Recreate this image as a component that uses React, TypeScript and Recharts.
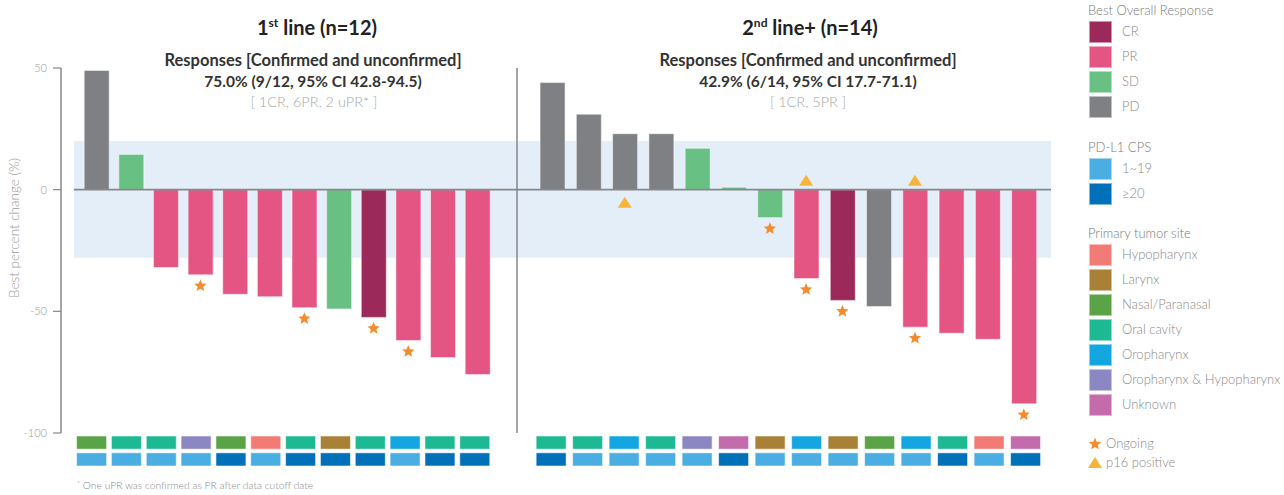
import React from 'react';
import { ComposedChart, Bar, Cell, XAxis, YAxis, ReferenceArea, ReferenceLine, Scatter } from 'recharts';

const FONT = 'Lato, "Open Sans", sans-serif';

// ---------- data ----------
const firstLineChange = [49, 14.5, -32, -35, -43, -44, -48.5, -49, -52.5, -62, -69, -76];
const firstLineResponse = ['PD', 'SD', 'PR', 'PR', 'PR', 'PR', 'PR', 'SD', 'CR', 'PR', 'PR', 'PR'];
const firstLineCps = ['1~19', '1~19', '1~19', '1~19', '≥20', '1~19', '≥20', '≥20', '≥20', '1~19', '≥20', '≥20'];
const firstLineSite = ['Nasal/Paranasal', 'Oral cavity', 'Oral cavity', 'Oropharynx & Hypopharynx', 'Nasal/Paranasal', 'Hypopharynx', 'Oral cavity', 'Larynx', 'Oral cavity', 'Oropharynx', 'Oral cavity', 'Oral cavity'];
const firstLineOngoing = [false, false, false, true, false, false, true, false, true, true, false, false];
const firstLineP16 = [false, false, false, false, false, false, false, false, false, false, false, false];

const secondLineChange = [44, 31, 23, 23, 17, 1, -11.5, -36.5, -45.5, -48, -56.5, -59, -61.5, -88];
const secondLineResponse = ['PD', 'PD', 'PD', 'PD', 'SD', 'SD', 'SD', 'PR', 'CR', 'PD', 'PR', 'PR', 'PR', 'PR'];
const secondLineCps = ['≥20', '1~19', '1~19', '1~19', '1~19', '≥20', '1~19', '1~19', '1~19', '1~19', '1~19', '≥20', '1~19', '≥20'];
const secondLineSite = ['Oral cavity', 'Oral cavity', 'Oropharynx', 'Oral cavity', 'Oropharynx & Hypopharynx', 'Unknown', 'Larynx', 'Oropharynx', 'Larynx', 'Nasal/Paranasal', 'Oropharynx', 'Oral cavity', 'Hypopharynx', 'Unknown'];
const secondLineOngoing = [false, false, false, false, false, false, true, true, true, false, true, false, false, true];
const secondLineP16 = [false, false, true, false, false, false, false, true, false, false, true, false, false, false];

const yTicks = [50, 0, -50, -100];
const recistBand = [-28, 20];

const responseLabels = ['CR', 'PR', 'SD', 'PD'];
const responseColors = ['#9B2A5A', '#E45584', '#68C182', '#7E8084'];
const cpsLabels = ['1~19', '≥20'];
const cpsColors = ['#4AAEE2', '#0070B8'];
const siteLabels = ['Hypopharynx', 'Larynx', 'Nasal/Paranasal', 'Oral cavity', 'Oropharynx', 'Oropharynx & Hypopharynx', 'Unknown'];
const siteColors = ['#F27B76', '#A98136', '#5BA347', '#1DB993', '#14A6E0', '#8A87C2', '#C46BAB'];

const STAR_COLOR = '#F68B2D';
const TRI_COLOR = '#F6B43A';
const BAND_COLOR = '#E4EEF9';
const AXIS_COLOR = '#85878B';
const TILE_GAP = 0.28;

const colorOf = (labels: string[], colors: string[], v: string) => colors[labels.indexOf(v)];

type Row = { idx: number; value: number; response: string; cps: string; site: string; ongoing: boolean; p16: boolean };

const buildRows = (change: number[], resp: string[], cps: string[], site: string[], ongoing: boolean[], p16: boolean[]): Row[] =>
  change.map((v, i) => ({ idx: i + 1, value: v, response: resp[i], cps: cps[i], site: site[i], ongoing: ongoing[i], p16: p16[i] }));

const firstRows = buildRows(firstLineChange, firstLineResponse, firstLineCps, firstLineSite, firstLineOngoing, firstLineP16);
const secondRows = buildRows(secondLineChange, secondLineResponse, secondLineCps, secondLineSite, secondLineOngoing, secondLineP16);

// ---------- shapes ----------
const starPath = (cx: number, cy: number, R: number, r: number) => {
  let d = '';
  for (let i = 0; i < 10; i++) {
    const rad = i % 2 === 0 ? R : r;
    const a = -Math.PI / 2 + (i * Math.PI) / 5;
    d += (i === 0 ? 'M' : 'L') + (cx + rad * Math.cos(a)).toFixed(2) + ',' + (cy + rad * Math.sin(a)).toFixed(2);
  }
  return d + 'Z';
};
const triPath = (cx: number, top: number, w: number, h: number) =>
  `M${cx},${top}L${cx + w / 2},${top + h}L${cx - w / 2},${top + h}Z`;

const StarShape = (props: any) => {
  const { cx, cy } = props;
  if (cx == null || cy == null) return <g />;
  return <path d={starPath(cx, cy + 11, 6.5, 2.9)} fill={STAR_COLOR} />;
};
const TriShape = (props: any) => {
  const { cx, cy, payload } = props;
  if (cx == null || cy == null) return <g />;
  const top = payload.value < 0 ? cy - 15 : cy + 7;
  return <path d={triPath(cx, top, 14, 11)} fill={TRI_COLOR} />;
};

// ---------- panels ----------
type PanelProps = {
  rows: Row[];
  left: number;
  width: number;
  marginRight: number;
  yWidth: number;
  domain: [number, number];
  bandStart: number;
  showTicks: boolean;
};

const MainPanel = ({ rows, left, width, marginRight, yWidth, domain, bandStart, showTicks }: PanelProps) => {
  const ongoing = rows.filter((r) => r.ongoing);
  const p16 = rows.filter((r) => r.p16).map((r) => ({ ...r, base: 0 }));
  return (
    <div style={{ position: 'absolute', left, top: 0 }}>
      <ComposedChart width={width} height={448} data={rows} margin={{ top: 68, right: marginRight, bottom: 15, left: 0 }}>
        <XAxis type="number" dataKey="idx" domain={domain} hide allowDataOverflow />
        <YAxis
          type="number"
          domain={[-100, 50]}
          ticks={yTicks}
          width={yWidth}
          interval={0}
          axisLine={{ stroke: AXIS_COLOR, strokeWidth: 1.5 }}
          tickLine={showTicks ? { stroke: AXIS_COLOR, strokeWidth: 1.2 } : false}
          tick={showTicks ? { fill: '#9A9A9A', fontSize: 11, fontFamily: FONT, fontWeight: 300 } : false}
          tickSize={8}
          tickMargin={6}
        />
        <ReferenceArea x1={bandStart} x2={domain[1]} y1={recistBand[0]} y2={recistBand[1]} fill={BAND_COLOR} fillOpacity={1} stroke="none" ifOverflow="visible" />
        <Bar dataKey="value" barSize={25} isAnimationActive={false} stroke="rgba(255,255,255,0.5)" strokeWidth={1}>
          {rows.map((r, i) => (
            <Cell key={i} fill={colorOf(responseLabels, responseColors, r.response)} />
          ))}
        </Bar>
        <ReferenceLine segment={[{ x: bandStart, y: 0 }, { x: domain[1], y: 0 }]} stroke={AXIS_COLOR} strokeWidth={1.6} ifOverflow="visible" />
        <Scatter data={ongoing} dataKey="value" shape={StarShape} isAnimationActive={false} />
        {p16.length > 0 && <Scatter data={p16} dataKey="base" shape={TriShape} isAnimationActive={false} />}
      </ComposedChart>
    </div>
  );
};

type TileProps = { rows: Row[]; left: number; width: number; marginLeft: number; marginRight: number; domain: [number, number] };

const TilePanel = ({ rows, left, width, marginLeft, marginRight, domain }: TileProps) => {
  const tiles = rows.map((r) => ({ idx: r.idx, cps: r.cps, site: r.site, cpsRow: 1, gapRow: TILE_GAP, siteRow: 1 }));
  return (
    <div style={{ position: 'absolute', left, top: 436 }}>
      <ComposedChart width={width} height={30} data={tiles} margin={{ top: 0, right: marginRight, bottom: 0, left: marginLeft }}>
        <XAxis type="number" dataKey="idx" domain={domain} hide allowDataOverflow />
        <YAxis type="number" domain={[0, 2 + TILE_GAP]} hide allowDataOverflow />
        <Bar dataKey="cpsRow" stackId="t" barSize={30} isAnimationActive={false} stroke="rgba(255,255,255,0.55)" strokeWidth={1}>
          {tiles.map((t, i) => (
            <Cell key={i} fill={colorOf(cpsLabels, cpsColors, t.cps)} />
          ))}
        </Bar>
        <Bar dataKey="gapRow" stackId="t" barSize={30} isAnimationActive={false} fill="transparent" />
        <Bar dataKey="siteRow" stackId="t" barSize={30} isAnimationActive={false} stroke="rgba(255,255,255,0.55)" strokeWidth={1}>
          {tiles.map((t, i) => (
            <Cell key={i} fill={colorOf(siteLabels, siteColors, t.site)} />
          ))}
        </Bar>
      </ComposedChart>
    </div>
  );
};

// ---------- legend ----------
const legendText: React.CSSProperties = { fontFamily: FONT, fontSize: 13, fontWeight: 300, color: '#8A8A8A', whiteSpace: 'nowrap' };

const LegendSection = ({ title, top, labels, colors }: { title: string; top: number; labels: string[]; colors: string[] }) => (
  <>
    <div style={{ ...legendText, position: 'absolute', left: 1088, top: top - 9, color: '#7A7A7A' }}>{title}</div>
    {labels.map((l, i) => (
      <React.Fragment key={l}>
        <div style={{ position: 'absolute', left: 1089, top: top + 10 + i * 25, width: 23, height: 22, background: colors[i], boxShadow: 'inset 0 0 0 1px rgba(255,255,255,0.5)' }} />
        <div style={{ ...legendText, position: 'absolute', left: 1122, top: top + 12 + i * 25 }}>{l}</div>
      </React.Fragment>
    ))}
  </>
);

const Legend = () => (
  <>
    <LegendSection title="Best Overall Response" top={11} labels={responseLabels} colors={responseColors} />
    <LegendSection title="PD-L1 CPS" top={148} labels={cpsLabels} colors={cpsColors} />
    <LegendSection title="Primary tumor site" top={234} labels={siteLabels} colors={siteColors} />
    <svg style={{ position: 'absolute', left: 1087, top: 436 }} width={16} height={34}>
      <path d={starPath(8, 8, 6.5, 2.9)} fill={STAR_COLOR} />
      <path d={triPath(8, 21, 14, 11)} fill={TRI_COLOR} />
    </svg>
    <div style={{ ...legendText, position: 'absolute', left: 1106, top: 435 }}>Ongoing</div>
    <div style={{ ...legendText, position: 'absolute', left: 1106, top: 454 }}>p16 positive</div>
  </>
);

// ---------- annotations ----------
const Annotations = () => (
  <svg style={{ position: 'absolute', left: 0, top: 0, pointerEvents: 'none' }} width={1284} height={495} fontFamily={FONT}>
    <text x={317} y={35} textAnchor="middle" fontSize={20} fontWeight={700} fill="#222">
      <tspan>1</tspan>
      <tspan dy={-8} fontSize={12}>st</tspan>
      <tspan dy={8}> line (n=12)</tspan>
    </text>
    <text x={313} y={66} textAnchor="middle" fontSize={16.5} fontWeight={700} fill="#333">Responses [Confirmed and unconfirmed]</text>
    <text x={313} y={87} textAnchor="middle" fontSize={15.5} fontWeight={700} fill="#333">75.0% (9/12, 95% CI 42.8-94.5)</text>
    <text x={314} y={107} textAnchor="middle" fontSize={14.5} fontWeight={300} fill="#A8A8A8">[ 1CR, 6PR, 2 uPR* ]</text>

    <text x={810} y={35} textAnchor="middle" fontSize={20} fontWeight={700} fill="#222">
      <tspan>2</tspan>
      <tspan dy={-8} fontSize={12}>nd</tspan>
      <tspan dy={8}> line+ (n=14)</tspan>
    </text>
    <text x={808} y={66} textAnchor="middle" fontSize={16.5} fontWeight={700} fill="#333">Responses [Confirmed and unconfirmed]</text>
    <text x={808} y={87} textAnchor="middle" fontSize={15.5} fontWeight={700} fill="#333">42.9% (6/14, 95% CI 17.7-71.1)</text>
    <text x={808} y={107} textAnchor="middle" fontSize={14.5} fontWeight={300} fill="#A8A8A8">[ 1CR, 5PR ]</text>

    <text transform="translate(19,228) rotate(-90)" textAnchor="middle" fontSize={13.5} fontWeight={300} fill="#9A9A9A">Best percent change (%)</text>

    <text x={77} y={489} fontSize={10.3} fontWeight={300} fill="#8A8A8A">
      <tspan fontSize={7} dy={-2}>*</tspan>
      <tspan dy={2}> One uPR was confirmed as PR after data cutoff date</tspan>
    </text>
  </svg>
);

export default function App() {
  return (
    <div style={{ position: 'absolute', left: 0, top: 0, width: 1284, height: 495, background: '#fff', overflow: 'hidden' }}>
      <MainPanel rows={firstRows} left={0} width={530} marginRight={13} yWidth={61} domain={[-0.025, 13.14]} bandStart={0.35} showTicks />
      <MainPanel rows={secondRows} left={500} width={560} marginRight={9} yWidth={17} domain={[0.03, 14.75]} bandStart={0.03} showTicks={false} />
      <TilePanel rows={firstRows} left={0} width={530} marginLeft={61} marginRight={13} domain={[0.11, 13.2]} />
      <TilePanel rows={secondRows} left={500} width={560} marginLeft={17} marginRight={9} domain={[0.058, 14.69]} />
      <Legend />
      <Annotations />
    </div>
  );
}
